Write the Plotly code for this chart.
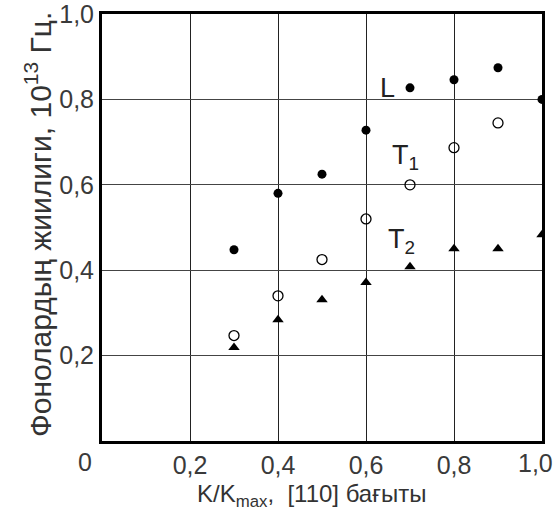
import plotly.graph_objects as go

k_L = [0.3, 0.4, 0.5, 0.6, 0.7, 0.8, 0.9, 1.0]
f_L = [0.448, 0.58, 0.625, 0.728, 0.827, 0.846, 0.874, 0.80]
k_T1 = [0.3, 0.4, 0.5, 0.6, 0.7, 0.8, 0.9]
f_T1 = [0.247, 0.34, 0.425, 0.52, 0.60, 0.687, 0.745]
k_T2 = [0.3, 0.4, 0.5, 0.6, 0.7, 0.8, 0.9, 1.0]
f_T2 = [0.219, 0.284, 0.331, 0.371, 0.408, 0.45, 0.45, 0.483]
tick_vals = [0.2, 0.4, 0.6, 0.8, 1.0]
tick_text = ["0,2", "0,4", "0,6", "0,8", "1,0"]

fig = go.Figure()
fig.add_trace(go.Scatter(x=k_L, y=f_L, mode="markers",
                         marker=dict(symbol="circle", size=9, color="black")))
fig.add_trace(go.Scatter(x=k_T1, y=f_T1, mode="markers",
                         marker=dict(symbol="circle-open", size=10, color="black", line=dict(width=1.3))))
fig.add_trace(go.Scatter(x=k_T2, y=f_T2, mode="markers",
                         marker=dict(symbol="triangle-up", size=10, color="black")))

fam = "Liberation Sans, Arial, sans-serif"
tickfont = dict(family=fam, size=25, color="#3a3a3a")
lblfont = dict(family=fam, size=27, color="#222")
xtfont = dict(family=fam, size=24, color="#333")
ytfont = dict(family=fam, size=30, color="#333")

L, R, T, B = 102, 14, 14, 81
W, H = 556, 522
pw, ph = W - L - R, H - T - B

def px(xp):
    return (xp - L) / pw

def py(yp):
    return (H - B - yp) / ph

fig.update_layout(
    width=W, height=H, showlegend=False,
    margin=dict(l=L, r=R, t=T, b=B, autoexpand=False),
    plot_bgcolor="white", paper_bgcolor="white",
    xaxis=dict(range=[0, 1.0], tickvals=tick_vals, ticktext=tick_text[:-1] + [""], showgrid=True,
               gridcolor="#222", gridwidth=1, showline=True, linecolor="black", linewidth=3,
               mirror=True, ticks="", zeroline=False, automargin=False,
               ticklabeloverflow="allow", tickfont=tickfont),
    yaxis=dict(range=[0, 1.0], tickvals=tick_vals, ticktext=tick_text, showgrid=True,
               gridcolor="#444", gridwidth=1, showline=True, linecolor="black", linewidth=3,
               mirror=True, ticks="", zeroline=False, automargin=False,
               ticklabeloverflow="allow", tickfont=tickfont),
    annotations=[
        dict(text="0", x=px(85), y=py(462), xref="paper", yref="paper", showarrow=False,
             font=tickfont, xanchor="center", yanchor="middle"),
        dict(text=tick_text[-1], x=px(555), y=py(463), xref="paper", yref="paper", showarrow=False,
             font=tickfont, xanchor="right", yanchor="middle"),
        dict(text="L", x=0.648, y=0.827, xref="x", yref="y", showarrow=False, font=lblfont,
             xanchor="center", yanchor="middle"),
        dict(text="T<sub>1</sub>", x=0.69, y=0.665, xref="x", yref="y", showarrow=False, font=lblfont,
             xanchor="center", yanchor="middle"),
        dict(text="T<sub>2</sub>", x=0.68, y=0.468, xref="x", yref="y", showarrow=False, font=lblfont,
             xanchor="center", yanchor="middle"),
        dict(text="K/K<sub>max</sub>,  [110] бағыты", x=px(311), y=py(496), xref="paper", yref="paper",
             showarrow=False, font=xtfont, xanchor="center", yanchor="middle"),
        dict(text="Фонолардың жиилиги, 10<sup>13</sup> Гц.", x=px(38), y=py(225), showarrow=False,
             font=ytfont, textangle=-90, xref="paper", yref="paper", xanchor="center", yanchor="middle"),
    ],
)
fig.write_html("out.html")
